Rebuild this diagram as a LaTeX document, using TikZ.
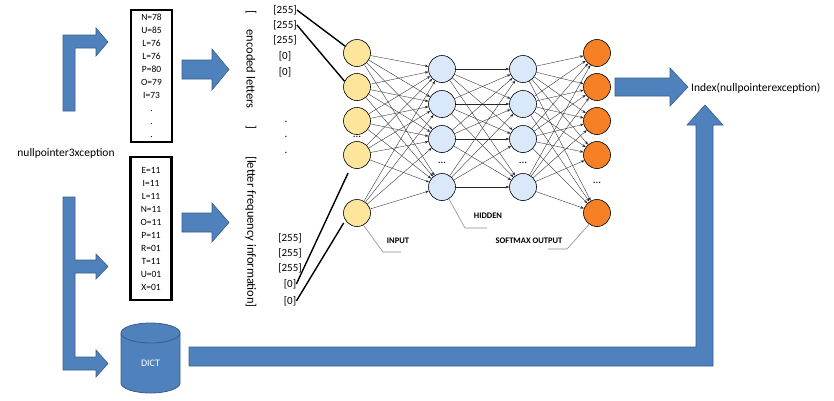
\documentclass[tikz,border=0pt]{standalone}
\usepackage{fontspec}
\setmainfont{Carlito}
\usetikzlibrary{arrows.meta}
\definecolor{arrowblue}{RGB}{79,129,189}
\definecolor{arrowedge}{RGB}{56,93,138}
\definecolor{inyellow}{RGB}{253,229,155}
\definecolor{hidblue}{RGB}{218,232,252}
\definecolor{outorange}{RGB}{246,128,38}
\begin{document}
\begin{tikzpicture}[x=1pt,y=-1pt,
 blockarrow/.style={fill=arrowblue,draw=arrowedge,line width=0.6pt,line join=miter},
 neuron/.style={circle,draw=black,line width=0.6pt,minimum size=27pt,inner sep=0pt},
 inputnode/.style={neuron,fill=inyellow},
 hiddennode/.style={neuron,fill=hidblue},
 outnode/.style={neuron,fill=outorange},
 netedge/.style={-{Stealth[length=3.5pt,width=2.6pt]},line width=0.35pt,draw=black!85},
 listbox/.style={draw=black,line width=2.2pt,align=center,inner sep=0pt,minimum width=41pt,font=\fontsize{9.5}{13}\selectfont},
 valtxt/.style={font=\fontsize{11}{12}\selectfont,inner sep=0pt},
 vtxt/.style={font=\fontsize{12.5}{13}\selectfont,rotate=-90,inner sep=0pt},
 feed/.style={line width=1.4pt,draw=black},
 callout/.style={draw=black!45,line width=0.6pt},
 layerlabel/.style={font=\bfseries\fontsize{8.5}{9}\selectfont,inner sep=0pt},
 plaintxt/.style={font=\fontsize{11.5}{12}\selectfont,inner sep=0pt},
 dotmark/.style={font=\fontsize{11}{12}\selectfont,inner sep=0pt}
]
\useasboundingbox (0,0) rectangle (834,400);

% ---------- left source text ----------
\node[plaintxt] (src) at (66,153) {nullpointer3xception};

% ---------- upper L arrow ----------
\draw[blockarrow] (63,111) -- (63,35) -- (96,35) -- (96,28) -- (108,42) -- (96,56) -- (96,48) -- (75,48) -- (75,111) -- cycle;

% ---------- lower branching arrow ----------
\draw[blockarrow] (63,197) -- (75,197) -- (75,260) -- (96,260) -- (96,254) -- (108,266.5) -- (96,279) -- (96,273) -- (75,273) -- (75,357) -- (96,357) -- (96,350) -- (108,363.5) -- (96,377) -- (96,370) -- (63,370) -- cycle;

% ---------- list boxes ----------
\node[listbox,minimum height=132pt] (box1) at (151.5,76) {N=78\\U=85\\L=76\\L=76\\P=80\\O=79\\I=73\\.\\.\\.};
\node[listbox,minimum height=143pt] (box2) at (151,228.5) {E=11\\I=11\\L=11\\N=11\\O=11\\P=11\\R=01\\T=11\\U=01\\X=01};

% ---------- arrows to encodings ----------
\draw[blockarrow] (182,60) -- (212,60) -- (212,49) -- (229,69.5) -- (212,90) -- (212,79) -- (182,79) -- cycle;
\draw[blockarrow] (182,213) -- (212,213) -- (212,203) -- (229,222.5) -- (212,242) -- (212,232) -- (182,232) -- cycle;

% ---------- vertical labels ----------
\node[vtxt] (brA) at (251,12) {[};
\node[vtxt] (enc) at (251,69) {encoded letters};
\node[vtxt] (brB) at (251,127) {]};
\node[vtxt] (freq) at (251,232) {[letter frequency information]};

% ---------- value columns ----------
\node[valtxt] (v1) at (285,10) {[255]};
\node[valtxt] (v2) at (285,25) {[255]};
\node[valtxt] (v3) at (285,40) {[255]};
\node[valtxt] (v4) at (285,56) {[0]};
\node[valtxt] (v5) at (285,72) {[0]};
\node[dotmark] (d1) at (286,122) {.};
\node[dotmark] (d2) at (286,137) {.};
\node[dotmark] (d3) at (286,153) {.};
\node[valtxt] (w1) at (290,238) {[255]};
\node[valtxt] (w2) at (290,253) {[255]};
\node[valtxt] (w3) at (290,268) {[255]};
\node[valtxt] (w4) at (290,284) {[0]};
\node[valtxt] (w5) at (290,301) {[0]};

% ---------- neurons ----------
\foreach \i/\y in {1/53,2/87,3/121,4/155,5/213}{
  \node[inputnode] (in\i) at (357,\y) {};
  \node[outnode] (out\i) at (597,\y) {};
}
\foreach \i/\y in {1/69,2/104,3/139,4/187}{
  \node[hiddennode] (ha\i) at (442,\y) {};
  \node[hiddennode] (hb\i) at (523,\y) {};
}
\node[dotmark] (dotin) at (357,137) {...};
\node[dotmark] (dotha) at (442,163) {...};
\node[dotmark] (dothb) at (523,163) {...};
\node[dotmark] (dotout) at (597,183) {...};

% ---------- network edges ----------
\foreach \i in {1,...,5}{\foreach \j in {1,...,4}{\draw[netedge] (in\i) -- (ha\j);}}
\foreach \i in {1,...,4}{\foreach \j in {1,...,4}{\draw[netedge] (ha\i) -- (hb\j);}}
\foreach \i in {1,...,4}{\foreach \j in {1,...,5}{\draw[netedge] (hb\i) -- (out\j);}}

% ---------- feeding lines ----------
\draw[feed] (v1.east) -- (in1.150);
\draw[feed] (v2.east) -- (in2.155);
\draw[feed] (w4.east) -- ([shift={(-2,6)}]in4.240);
\draw[feed] (w5.east) -- ([shift={(-2,2)}]in5.215);

% ---------- layer labels ----------
\node[layerlabel] (linput) at (398,241) {INPUT};
\coordinate (cinA) at (383,252);
\coordinate (cinB) at (401,252);
\draw[callout] (in5.-62) -- (cinA) -- (cinB);

\node[layerlabel] (lhidden) at (488,216) {HIDDEN};
\coordinate (chA) at (465,228);
\coordinate (chB) at (487,228);
\draw[callout] (ha4.-60) -- (chA) -- (chB);

\node[layerlabel] (lsoft) at (529,241) {SOFTMAX OUTPUT};
\coordinate (csA) at (567,249);
\coordinate (csB) at (548,249);
\draw[callout] (out5.-125) -- (csA) -- (csB);

% ---------- output arrow and result ----------
\draw[blockarrow] (615,78) -- (670,78) -- (670,68) -- (688,87) -- (670,106) -- (670,96) -- (615,96) -- cycle;
\node[plaintxt,anchor=west] (index) at (691,88) {Index(nullpointerexception)};

% ---------- DICT cylinder ----------
\draw[fill=arrowblue,draw=arrowedge,line width=0.8pt] (121,333) -- (121,383) arc[start angle=180,end angle=0,x radius=29.5,y radius=10] -- (180,333);
\draw[fill=arrowblue,draw=arrowedge,line width=0.8pt] (150.5,333) ellipse[x radius=29.5,y radius=10];
\node[font=\fontsize{10}{11}\selectfont,text=white,inner sep=0pt] (dict) at (150.5,363) {DICT};

% ---------- long return arrow ----------
\draw[blockarrow] (189,347) -- (696,347) -- (696,125) -- (687,125) -- (705,105) -- (723,125) -- (713,125) -- (713,366) -- (189,366) -- cycle;
\end{tikzpicture}
\end{document}
